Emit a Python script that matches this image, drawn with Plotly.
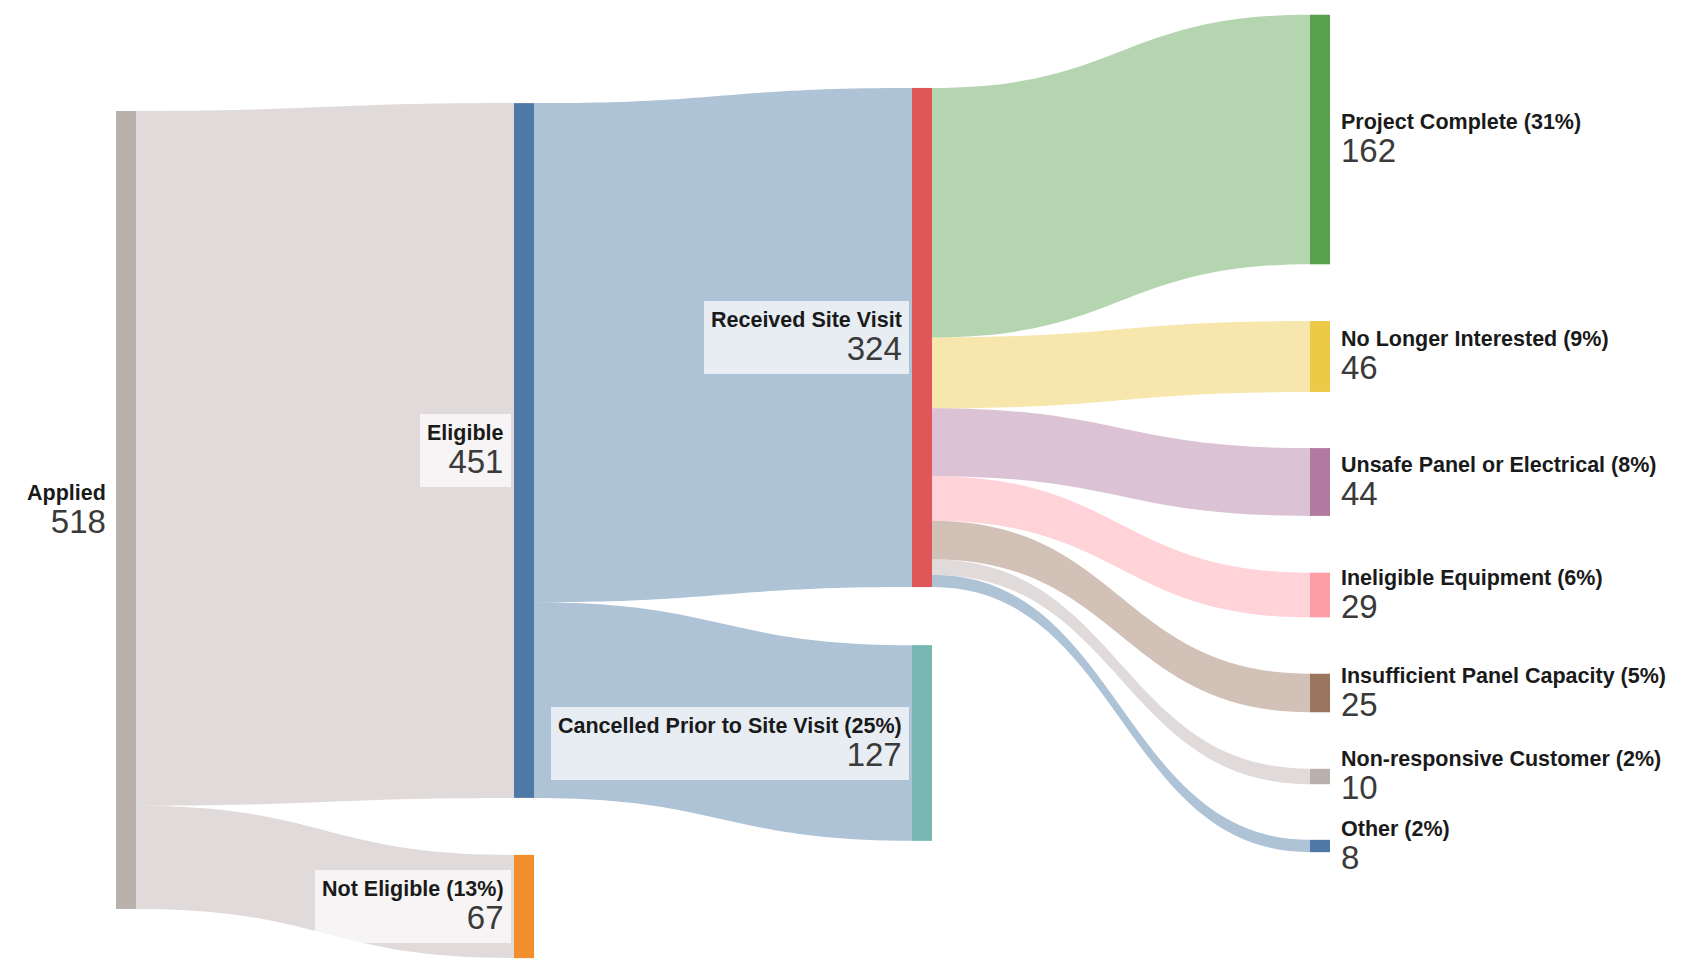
import plotly.graph_objects as go

# --- data -------------------------------------------------------------
NODE_NAMES = [
    "Applied",
    "Eligible",
    "Not Eligible",
    "Received Site Visit",
    "Cancelled Prior to Site Visit",
    "Project Complete",
    "No Longer Interested",
    "Unsafe Panel or Electrical",
    "Ineligible Equipment",
    "Insufficient Panel Capacity",
    "Non-responsive Customer",
    "Other",
]

LINK_SOURCE = [0, 0, 1, 1, 3, 3, 3, 3, 3, 3, 3]
LINK_TARGET = [1, 2, 3, 4, 5, 6, 7, 8, 9, 10, 11]
LINK_VALUE = [451, 67, 324, 127, 162, 46, 44, 29, 25, 10, 8]

# nodes whose label carries a share of all applicants
NO_PCT = {"Applied", "Eligible", "Received Site Visit"}

# --- style / layout ---------------------------------------------------
NODE_COLORS = [
    "#bab0ac", "#4e79a7", "#f28e2b", "#e15759", "#76b7b2", "#59a14f",
    "#edc948", "#b07aa1", "#ff9da7", "#9c755f", "#bab0ac", "#4e79a7",
]

W, H = 1700, 964
DOM_TOP, DOM_H = 15, 878          # sankey domain in px (sets the value scale)
NODE_W = 20
COL_X = [126, 524, 922, 1320]     # column centres, px
NODE_COL = [0, 1, 1, 2, 2, 3, 3, 3, 3, 3, 3, 3]
NODE_CY = [510, 450.5, 906.5, 337.5, 743, 139.5, 356.5, 482, 595, 693, 776.5, 846]


def rgba(hex_color, a):
    h = hex_color.lstrip("#")
    r, g, b = (int(h[i:i + 2], 16) for i in (0, 2, 4))
    return f"rgba({r},{g},{b},{a})"


# totals per node (outflow for the root, inflow otherwise)
totals = [0] * len(NODE_NAMES)
for s, t, v in zip(LINK_SOURCE, LINK_TARGET, LINK_VALUE):
    totals[t] += v
totals[0] = sum(v for s, v in zip(LINK_SOURCE, LINK_VALUE) if s == 0)
grand = totals[0]

# first two stages take the source colour, the rest the target colour
link_colors = [
    rgba(NODE_COLORS[s] if s in (0, 1) else NODE_COLORS[t], 0.45)
    for s, t in zip(LINK_SOURCE, LINK_TARGET)
]

node_x = [COL_X[c] / W for c in NODE_COL]
node_y = [(cy - DOM_TOP) / DOM_H for cy in NODE_CY]

fig = go.Figure(
    go.Sankey(
        arrangement="fixed",
        domain=dict(x=[0, 1], y=[1 - (DOM_TOP + DOM_H) / H, 1 - DOM_TOP / H]),
        node=dict(
            label=[""] * len(NODE_NAMES),
            customdata=NODE_NAMES,
            hovertemplate="%{customdata}: %{value}<extra></extra>",
            x=node_x,
            y=node_y,
            pad=10,
            thickness=NODE_W,
            color=NODE_COLORS,
            line=dict(width=0),
        ),
        link=dict(
            source=LINK_SOURCE,
            target=LINK_TARGET,
            value=LINK_VALUE,
            color=link_colors,
            line=dict(width=0),
        ),
    )
)

# labels with a soft background box, next to each node
for i, name in enumerate(NODE_NAMES):
    title = name if name in NO_PCT else f"{name} ({round(100 * totals[i] / grand)}%)"
    text = (
        f"<span style='font-size:21.5px;font-weight:bold;fill:#1a1a1a'>{title}</span>"
        f"<br><span style='font-size:33px;fill:#3a3a3a'>{totals[i]}</span>"
    )
    cx = COL_X[NODE_COL[i]]
    right_side = NODE_COL[i] == 3
    fig.add_annotation(
        xref="paper",
        yref="paper",
        x=(cx + NODE_W / 2 + 4) / W if right_side else (cx - NODE_W / 2 - 3) / W,
        y=1 - NODE_CY[i] / H,
        xanchor="left" if right_side else "right",
        yanchor="middle",
        align="left" if right_side else "right",
        text=text,
        showarrow=False,
        bgcolor="rgba(0,0,0,0)" if right_side else "rgba(255,255,255,0.7)",
        borderpad=7,
        borderwidth=0,
        font=dict(family="Liberation Sans, Arial, sans-serif", size=25, color="#222222"),
    )

fig.update_layout(
    width=W,
    height=H,
    margin=dict(l=0, r=0, t=0, b=0),
    paper_bgcolor="white",
    plot_bgcolor="white",
    font=dict(family="Liberation Sans, Arial, sans-serif"),
)

# drop the browser's default body margin so the figure sits at the page corner
fig.write_html(
    "out.html",
    config={"displayModeBar": False},
    post_script="document.body.style.margin = '0';",
)
